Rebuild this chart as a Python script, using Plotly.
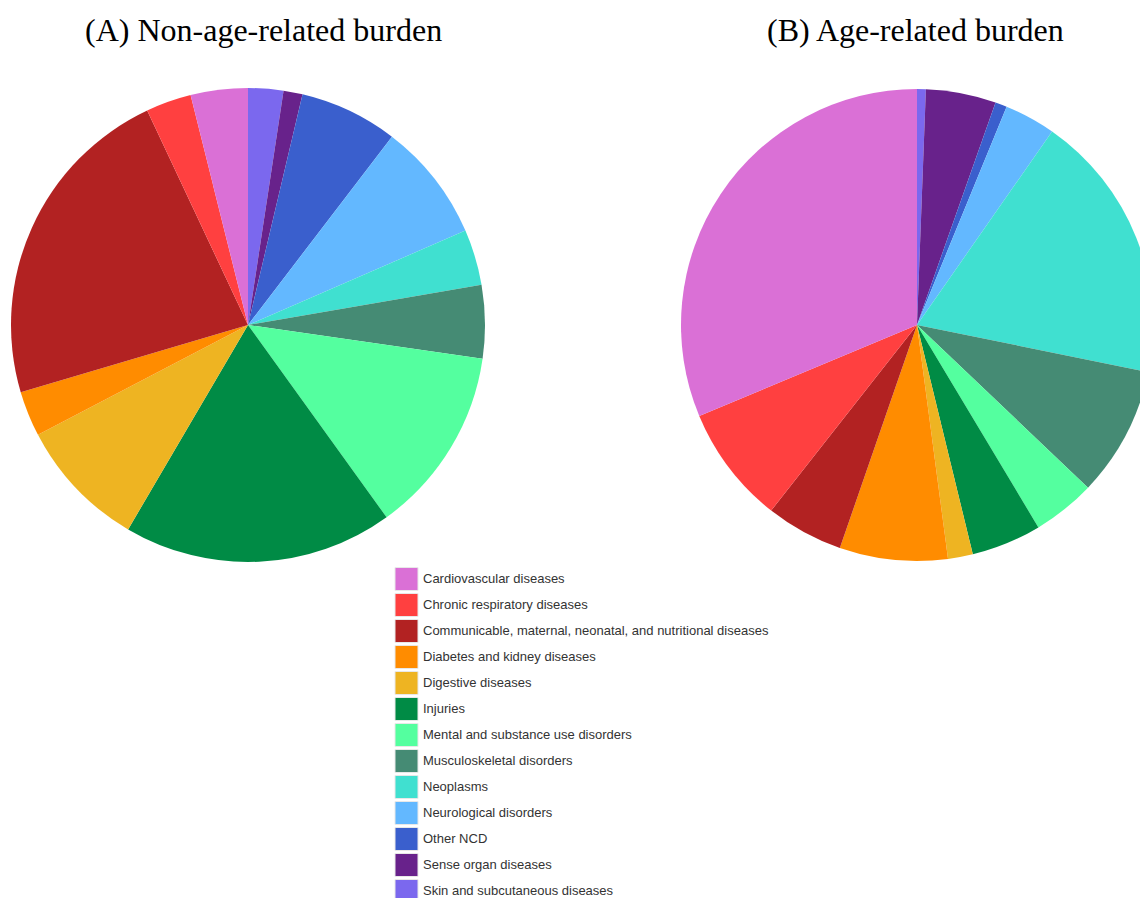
import plotly.graph_objects as go

# categories and colours (legend order)
causes = [
    'Cardiovascular diseases',
    'Chronic respiratory diseases',
    'Communicable, maternal, neonatal, and nutritional diseases',
    'Diabetes and kidney diseases',
    'Digestive diseases',
    'Injuries',
    'Mental and substance use disorders',
    'Musculoskeletal disorders',
    'Neoplasms',
    'Neurological disorders',
    'Other NCD',
    'Sense organ diseases',
    'Skin and subcutaneous diseases',
]
colors = ['#DA70D6', '#FF4040', '#B22222', '#FF8C00', '#EEB422', '#008B45',
          '#54FF9F', '#458B74', '#40E0D0', '#63B8FF', '#3A5FCD', '#68228B', '#7B68EE']

# share of burden (%)
non_age_related = [3.9, 3.1, 22.6, 3.1, 8.9, 18.4, 12.8, 5.0, 3.8, 8.1, 6.7, 1.3, 2.4]
age_related = [31.3, 8.1, 5.3, 7.4, 1.7, 4.8, 4.3, 8.9, 18.5, 3.5, 0.8, 4.8, 0.6]

titles = ['(A) Non-age-related burden', '(B) Age-related burden']

# page size in px (a bit wider than the window so the right pie gets clipped)
W, H = 1160, 898


def fx(px):
    return px / W


def fy(py):
    # convert from top-based pixels to paper fraction
    return 1 - py / H


def make_pie(values, dom):
    # slices run counterclockwise from 12 o'clock in legend order;
    # plotly does that with reversed lists drawn clockwise
    return go.Pie(
        labels=causes[::-1], values=values[::-1], sort=False, direction='clockwise',
        marker=dict(colors=colors[::-1], line=dict(width=0)), textinfo='none',
        hoverinfo='label+percent', showlegend=False, domain=dom,
    )


fig = go.Figure()
fig.add_trace(make_pie(non_age_related, dict(x=[fx(11), fx(485)], y=[fy(562), fy(88)])))
fig.add_trace(make_pie(age_related, dict(x=[fx(681), fx(1153)], y=[fy(561), fy(89)])))

annotations = []
shapes = []

# panel titles
for t, cx in zip(titles, [263, 915]):
    annotations.append(dict(
        text=t, x=fx(cx), y=fy(30), xref='paper', yref='paper',
        xanchor='center', yanchor='middle', showarrow=False,
        font=dict(family='Liberation Serif', size=32, color='black'),
    ))

# hand-made legend with large square swatches
row_h = 26.0
for i, (name, col) in enumerate(zip(causes, colors)):
    top = 567.5 + i * row_h
    shapes.append(dict(
        type='rect', xref='paper', yref='paper',
        x0=fx(395), x1=fx(418), y0=fy(top + 23), y1=fy(top),
        fillcolor=col, line=dict(color='#e8e8e8', width=1),
    ))
    annotations.append(dict(
        text=name, x=fx(421), y=fy(top + 11), xref='paper', yref='paper',
        xanchor='left', yanchor='middle', showarrow=False,
        font=dict(family='Liberation Sans', size=13, color='#333333'),
    ))

fig.update_layout(
    width=W, height=H,
    margin=dict(l=0, r=0, t=0, b=0),
    paper_bgcolor='white', plot_bgcolor='white',
    annotations=annotations, shapes=shapes,
)

fig.write_html("out.html", config={'displayModeBar': False},
               post_script="document.body.style.margin='0';document.body.style.overflow='hidden';")
